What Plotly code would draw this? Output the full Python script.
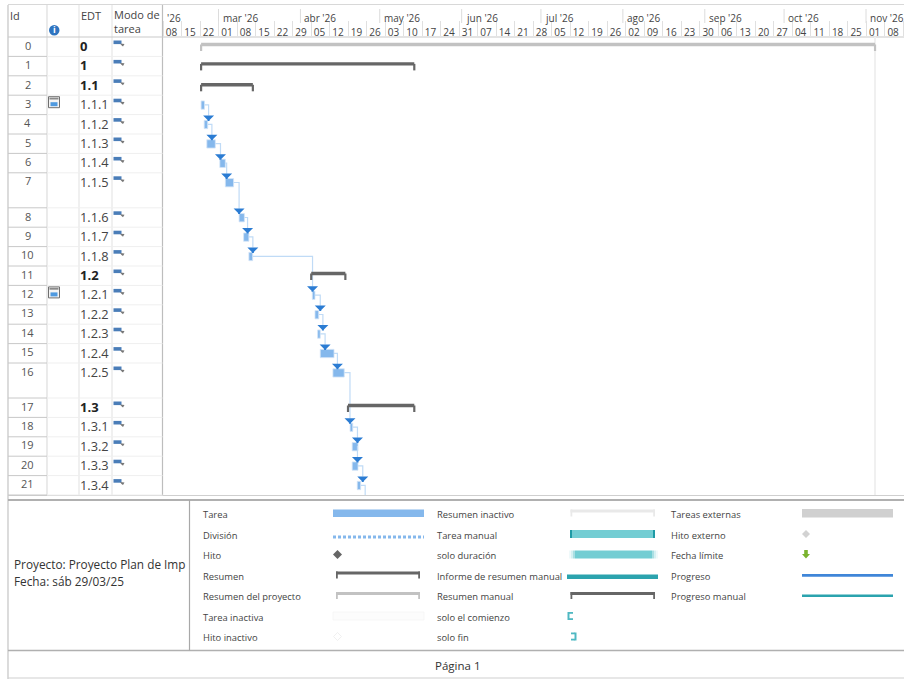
import pandas as pd
import plotly.graph_objects as go

W, H = 904, 679
FONT = "Open Sans"

# ---------- data ----------
ids = list(range(22))
wbs = ["0", "1", "1.1", "1.1.1", "1.1.2", "1.1.3", "1.1.4", "1.1.5", "1.1.6", "1.1.7", "1.1.8",
       "1.2", "1.2.1", "1.2.2", "1.2.3", "1.2.4", "1.2.5", "1.3", "1.3.1", "1.3.2", "1.3.3", "1.3.4"]
row_tall = [0, 0, 0, 0, 0, 0, 0, 1, 0, 0, 0, 0, 0, 0, 0, 0, 1, 0, 0, 0, 0, 0]
has_calendar = [3, 12]

starts = ["2026-02-22 10:00", "2026-02-22 10:00", "2026-02-22 10:00", "2026-02-22 10:00", "2026-02-23 14:00",
          "2026-02-24 14:00", "2026-03-01 12:00", "2026-03-03 14:00", "2026-03-08 19:00", "2026-03-10 12:00",
          "2026-03-12 12:00", "2026-04-05 02:00", "2026-04-05 12:00", "2026-04-06 12:00", "2026-04-07 12:00",
          "2026-04-08 12:00", "2026-04-13 07:00", "2026-04-19 00:00", "2026-04-19 19:00", "2026-04-20 14:00",
          "2026-04-20 14:00", "2026-04-22 12:00"]
finishes = ["2026-11-04 10:00", "2026-05-14 02:00", "2026-03-14 00:00", "2026-02-23 17:00", "2026-02-24 22:00",
            "2026-02-27 19:00", "2026-03-03 14:00", "2026-03-06 17:00", "2026-03-10 19:00", "2026-03-12 12:00",
            "2026-03-13 22:00", "2026-04-18 00:00", "2026-04-06 12:00", "2026-04-07 22:00", "2026-04-08 12:00",
            "2026-04-13 17:00", "2026-04-17 14:00", "2026-05-14 02:00", "2026-04-20 19:00", "2026-04-22 19:00",
            "2026-04-22 19:00", "2026-04-23 19:00"]
summary_rows = [0, 1, 2, 11, 17]

# dependency: predecessor row -> successor row, and the date where the arrow lands
link_pred = [3, 4, 5, 6, 7, 8, 9, 10, 12, 13, 14, 15, 16, 18, 19, 20]
link_succ = [4, 5, 6, 7, 8, 9, 10, 12, 13, 14, 15, 16, 18, 19, 20, 21]
link_date = ["2026-02-25 06:00", "2026-02-26 12:00", "2026-03-01 18:00", "2026-03-04 02:00", "2026-03-08 19:00",
             "2026-03-12 00:00", "2026-03-14 00:00", "2026-04-05 14:00", "2026-04-08 12:00", "2026-04-09 12:00",
             "2026-04-10 08:00", "2026-04-15 00:00", "2026-04-19 18:00", "2026-04-22 14:00", "2026-04-22 14:00",
             "2026-04-24 14:00"]
last_link_date = "2026-04-25 12:00"

week_start = "2026-02-08"
axis_end = "2026-11-15 09:00"
week_dates = ["2026-02-08", "2026-02-15", "2026-02-22", "2026-03-01", "2026-03-08", "2026-03-15", "2026-03-22",
              "2026-03-29", "2026-04-05", "2026-04-12", "2026-04-19", "2026-04-26", "2026-05-03", "2026-05-10",
              "2026-05-17", "2026-05-24", "2026-05-31", "2026-06-07", "2026-06-14", "2026-06-21", "2026-06-28",
              "2026-07-05", "2026-07-12", "2026-07-19", "2026-07-26", "2026-08-02", "2026-08-09", "2026-08-16",
              "2026-08-23", "2026-08-30", "2026-09-06", "2026-09-13", "2026-09-20", "2026-09-27", "2026-10-04",
              "2026-10-11", "2026-10-18", "2026-10-25", "2026-11-01", "2026-11-08"]
week_labels = ["08", "15", "22", "01", "08", "15", "22", "29", "05", "12", "19", "26", "03", "10", "17", "24", "31",
               "07", "14", "21", "28", "05", "12", "19", "26", "02", "09", "16", "23", "30", "06", "13", "20", "27",
               "04", "11", "18", "25", "01", "08"]
month_dates = ["2026-03-01", "2026-04-01", "2026-05-01", "2026-06-01", "2026-07-01", "2026-08-01",
               "2026-09-01", "2026-10-01", "2026-11-01"]
month_labels = ["mar '26", "abr '26", "may '26", "jun '26", "jul '26", "ago '26", "sep '26", "oct '26", "nov '26"]

legend_col1 = ["Tarea", "División", "Hito", "Resumen", "Resumen del proyecto", "Tarea inactiva", "Hito inactivo"]
legend_col2 = ["Resumen inactivo", "Tarea manual", "solo duración", "Informe de resumen manual", "Resumen manual",
               "solo el comienzo", "solo fin"]
legend_col3 = ["Tareas externas", "Hito externo", "Fecha límite", "Progreso", "Progreso manual"]
legend_y = [514, 535, 555, 576, 596, 617, 637]

# ---------- geometry ----------
ROW, TALL = 19.4, 35.0
heights = [TALL if t else ROW for t in row_tall]
tops = [sum(heights[:i]) for i in range(len(heights))]
TOP, BOTTOM, GX = 37.0, 37.0 + sum(heights), 163.0


def px(x):
    return x / W


def py(y):
    return 1 - y / H


shapes, annos = [], []


def rect(x0, y0, x1, y1, fill, line=None, lw=0):
    shapes.append(dict(type="rect", xref="paper", yref="paper", x0=px(x0), x1=px(x1), y0=py(y0), y1=py(y1),
                       fillcolor=fill, line=dict(color=line or fill, width=lw), layer="above"))


def ln(x0, y0, x1, y1, color, w=1.0, dash="solid"):
    shapes.append(dict(type="line", xref="paper", yref="paper", x0=px(x0), x1=px(x1), y0=py(y0), y1=py(y1),
                       line=dict(color=color, width=w, dash=dash), layer="below"))


def poly(points, fill, line=None, lw=0):
    path = "M " + " L ".join(f"{px(a):.5f},{py(b):.5f}" for a, b in points) + " Z"
    shapes.append(dict(type="path", xref="paper", yref="paper", path=path, fillcolor=fill,
                       line=dict(color=line or fill, width=lw), layer="above"))


def txt(x, y, s, size=10, color="#444444", anchor="left", bold=False):
    x = x - 1 if anchor == "left" else x
    annos.append(dict(xref="paper", yref="paper", x=px(x), y=py(y), text=f"<b>{s}</b>" if bold else s,
                      showarrow=False, xanchor=anchor, yanchor="middle",
                      font=dict(family=FONT, size=size, color=color), align=anchor, borderpad=0, xshift=0))


# ---------- grid / table ----------
for x, c in [(47, "#dddddd"), (79, "#e6e6e6"), (112, "#e6e6e6")]:
    ln(x, 5, x, BOTTOM, c, 1.2)
ln(8, 5, 8, 679, "#c4c4c4", 1.2)
ln(162.5, 5, 162.5, BOTTOM, "#bdbdbd", 1.2)
ln(8, 4.5, W, 4.5, "#d8d8d8", 1.2)
ln(8, 37, W, 37, "#c9c9c9", 1.2)
ln(8, 495.5, W, 495.5, "#cfcfcf", 1.2)
ln(8, 500, W, 500, "#b0b0b0", 2)
ln(8, 650.5, W, 650.5, "#b0b0b0", 1.6)
ln(8, 678, W, 678, "#cfcfcf", 1.2)
ln(189.5, 500, 189.5, 650.5, "#a8a8a8", 1.2)

txt(10, 15, "Id", 11, "#444444")
txt(81, 15, "EDT", 11, "#444444")
txt(113.5, 22, "Modo de<br>tarea", 11, "#444444")
shapes.append(dict(type="circle", xref="paper", yref="paper", x0=px(49), x1=px(59.5), y0=py(25), y1=py(35.5),
                   fillcolor="#2e74c0", line=dict(width=0), layer="above"))
txt(54.3, 30, "i", 9, "#ffffff", "center", True)

for i in range(len(ids)):
    bottom = TOP + tops[i] + heights[i]
    ln(8, bottom, 47, bottom, "#c8c8c8", 1)
    ln(47, bottom, 162.5, bottom, "#efefef", 1)
    yt = TOP + tops[i] + 9
    txt(27.5, yt - 0.8, str(ids[i]), 11, "#555555", "center")
    is_sum = i in summary_rows
    txt(80, yt, wbs[i], 13 if is_sum else 12.8, "#222222" if is_sum else "#444444", "left", is_sum)
    # task-mode icon
    yi = TOP + tops[i] + 3.5
    rect(113.5, yi, 121.5, yi + 3.6, "#4a7db8")
    poly([(120, yi + 3), (124.5, yi + 3.4), (123, yi + 6), (121.5, yi + 4.8)], "#777777")

for i in has_calendar:
    yc = TOP + tops[i] + 1.5
    rect(48.5, yc, 59.5, yc + 11, "#f4f4f4", "#6f6f6f", 1)
    rect(49.5, yc + 1, 58.5, yc + 2.8, "#8a8a8a")
    rect(50.5, yc + 5.5, 57.5, yc + 9.5, "#4f9ae0")

# ---------- chart marks (all via axes) ----------
fig = go.Figure()
LINK = "#c0dbf6"

link_x, link_y = [], []
for p, s, d in zip(link_pred, link_succ, link_date):
    yp = tops[p] + 9.7
    link_x += [finishes[p], d, d, None]
    link_y += [yp, yp, tops[s] + 1, None]
link_x += [finishes[21], last_link_date, last_link_date]
link_y += [tops[21] + 9.7, tops[21] + 9.7, sum(heights)]
fig.add_trace(go.Scatter(x=link_x, y=link_y, mode="lines", line=dict(color=LINK, width=1.2),
                         hoverinfo="skip", showlegend=False, xaxis="x", yaxis="y"))

task_rows = [i for i in ids if i not in summary_rows]
fig.add_trace(go.Bar(orientation="h", y=[tops[i] + 9.9 for i in task_rows],
                     base=[starts[i] for i in task_rows],
                     x=[(pd.Timestamp(finishes[i]) - pd.Timestamp(starts[i])).total_seconds() * 1000 for i in task_rows],
                     width=8.3, marker=dict(color="#85b8ec", line=dict(color="#d4e5f8", width=0.8)),
                     text=[wbs[i] for i in task_rows], textposition="none", hoverinfo="text",
                     showlegend=False, xaxis="x", yaxis="y"))

for rows, color in [([0], "#c2c2c2"), ([1, 2, 11, 17], "#666666")]:
    hx, hy, ex, ey = [], [], [], []
    for i in rows:
        yc = tops[i] + (9.0 if i == 2 else 7.5)
        hx += [starts[i], finishes[i], None]
        hy += [yc, yc, None]
        ex += [starts[i], starts[i], None, finishes[i], finishes[i], None]
        ey += [yc, yc + 6.5, None, yc, yc + 6.5, None]
    fig.add_trace(go.Scatter(x=hx, y=hy, mode="lines", line=dict(color=color, width=3.4), hoverinfo="skip",
                             showlegend=False, xaxis="x", yaxis="y"))
    fig.add_trace(go.Scatter(x=ex, y=ey, mode="lines", line=dict(color=color, width=2.2), hoverinfo="skip",
                             showlegend=False, xaxis="x", yaxis="y"))

# arrowheads, pixel-sized but anchored on the axes
for s, d in zip(link_succ, link_date):
    shapes.append(dict(type="path", xref="x", yref="y", xsizemode="pixel", ysizemode="pixel",
                       xanchor=d, yanchor=tops[s] + 0.8,
                       path="M -5.5,0 L 5.5,0 L 1,-4.5 L 1,-5.5 L -1,-5.5 L -1,-4.5 Z",
                       fillcolor="#2b7cd3", line=dict(width=0), layer="above"))

# project-finish marker and month separators
shapes.append(dict(type="line", xref="x", yref="paper", x0=finishes[0], x1=finishes[0], y0=py(BOTTOM), y1=py(TOP),
                   line=dict(color="#f0f0f0", width=2), layer="below"))
for d, lab in zip(month_dates, month_labels):
    shapes.append(dict(type="line", xref="x", yref="paper", x0=d, x1=d, y0=py(23), y1=py(9),
                       line=dict(color="#dcdcdc", width=1), layer="below"))
    annos.append(dict(xref="x", yref="paper", x=d, y=py(17.5), text=lab, showarrow=False, xanchor="left",
                      yanchor="middle", xshift=2, font=dict(family=FONT, size=10, color="#444444")))
annos.append(dict(xref="x", yref="paper", x=week_start, y=py(17.5), text="'26", showarrow=False, xanchor="left",
                  yanchor="middle", xshift=2, font=dict(family=FONT, size=10, color="#444444")))

# ---------- legend ----------
for label, y in zip(legend_col1, legend_y):
    txt(203, y, label, 9.4, "#444444")
for label, y in zip(legend_col2, legend_y):
    txt(437, y, label, 9.4, "#444444")
for label, y in zip(legend_col3, legend_y):
    txt(671, y, label, 9.4, "#444444")

rect(333, 509.5, 424, 517, "#85b8ec")
ln(333, 537, 424, 537, "#85b8ec", 3, "3px,2px")
poly([(337.5, 550), (342, 554.5), (337.5, 559), (333, 554.5)], "#666666")


def bracket(x0, x1, y0, color):
    rect(x0, y0, x1, y0 + 3, color)
    rect(x0, y0, x0 + 1.8, y0 + 7, color)
    rect(x1 - 1.8, y0, x1, y0 + 7, color)


bracket(336, 420, 571.5, "#666666")
bracket(336, 420, 592, "#c2c2c2")
rect(333, 612, 424, 620, "#fcfcfc", "#f5f5f5", 0.8)
poly([(337.5, 632.5), (341.5, 636.5), (337.5, 640.5), (333.5, 636.5)], "#ffffff", "#ececec", 0.8)

bracket(570.5, 655, 509.5, "#e9e9e9")
rect(570, 530, 655, 538, "#73cdd3")
rect(570, 530, 572, 538, "#1e9aa5")
rect(653, 530, 655, 538, "#1e9aa5")
rect(575, 550.5, 652, 558.5, "#73cdd3")
for x, c in [(569, "#eff9fa"), (571, "#d5f0f2"), (573, "#a9dfe3"), (652, "#a9dfe3"), (654, "#d5f0f2"), (656, "#eff9fa")]:
    rect(x, 550.5, x + 2, 558.5, c)
rect(567, 574.5, 658, 579, "#2ba3ae")
bracket(570.5, 655, 592, "#666666")
rect(567.5, 612, 569.5, 620, "#4fb8c2")
rect(569, 612, 573, 613.8, "#4fb8c2")
rect(569, 618.2, 573, 620, "#4fb8c2")
rect(574.5, 632.5, 576.5, 640.5, "#4fb8c2")
rect(571, 632.5, 575, 634.3, "#4fb8c2")
rect(571, 638.7, 575, 640.5, "#4fb8c2")

rect(802, 509, 893, 517.5, "#d0d0d0")
poly([(806, 530), (810, 534), (806, 538), (802, 534)], "#d2d2d2")
poly([(804.2, 550), (807.8, 550), (807.8, 554), (810, 554), (806, 558.5), (802, 554), (804.2, 554)], "#7ab32e")
rect(802, 574, 893, 576.8, "#3f86d8")
rect(802, 594.5, 893, 597, "#2ba3ae")

txt(14, 564, "Proyecto: Proyecto Plan de Imp", 11.8, "#333333")
txt(14, 581, "Fecha: sáb 29/03/25", 11.8, "#333333")
txt(457, 665, "Página 1", 11.5, "#333333", "center")

# ---------- layout ----------
dom_x = [px(GX), 1]
dom_y = [py(BOTTOM), py(TOP)]
week_centres = [pd.Timestamp(d) + pd.Timedelta(hours=78) for d in week_dates]
fig.update_layout(
    width=W, height=H, autosize=False, margin=dict(l=0, r=0, t=0, b=0, autoexpand=False),
    paper_bgcolor="white", plot_bgcolor="rgba(0,0,0,0)", showlegend=False, barmode="overlay",
    font=dict(family=FONT, size=10, color="#444444"),
    xaxis=dict(type="date", domain=dom_x, range=[week_start, axis_end], anchor="y", side="top",
               tickmode="array", tickvals=week_centres, ticktext=week_labels,
               ticks="", ticklabelstandoff=-2, showgrid=False, zeroline=False, showline=False,
               tickfont=dict(family=FONT, size=10, color="#444444")),
    xaxis2=dict(type="date", domain=dom_x, range=[week_start, axis_end], anchor="y", side="top", overlaying="x",
                tick0=week_start, dtick=7 * 86400000, ticks="outside", ticklen=15, tickcolor="#e0e0e0", tickwidth=1,
                showticklabels=False, showgrid=False, zeroline=False, showline=False),
    yaxis=dict(domain=dom_y, range=[sum(heights), 0], visible=False, fixedrange=True),
    shapes=shapes, annotations=annos,
)
# a hidden point makes the weekly separator axis render its ticks
fig.add_trace(go.Scatter(x=[week_start], y=[0], mode="markers", marker=dict(opacity=0), hoverinfo="skip",
                         showlegend=False, xaxis="x2", yaxis="y"))

fig.write_html("out.html", config=dict(displayModeBar=False),
               post_script="document.body.style.margin='0';document.documentElement.style.overflow='hidden';")
